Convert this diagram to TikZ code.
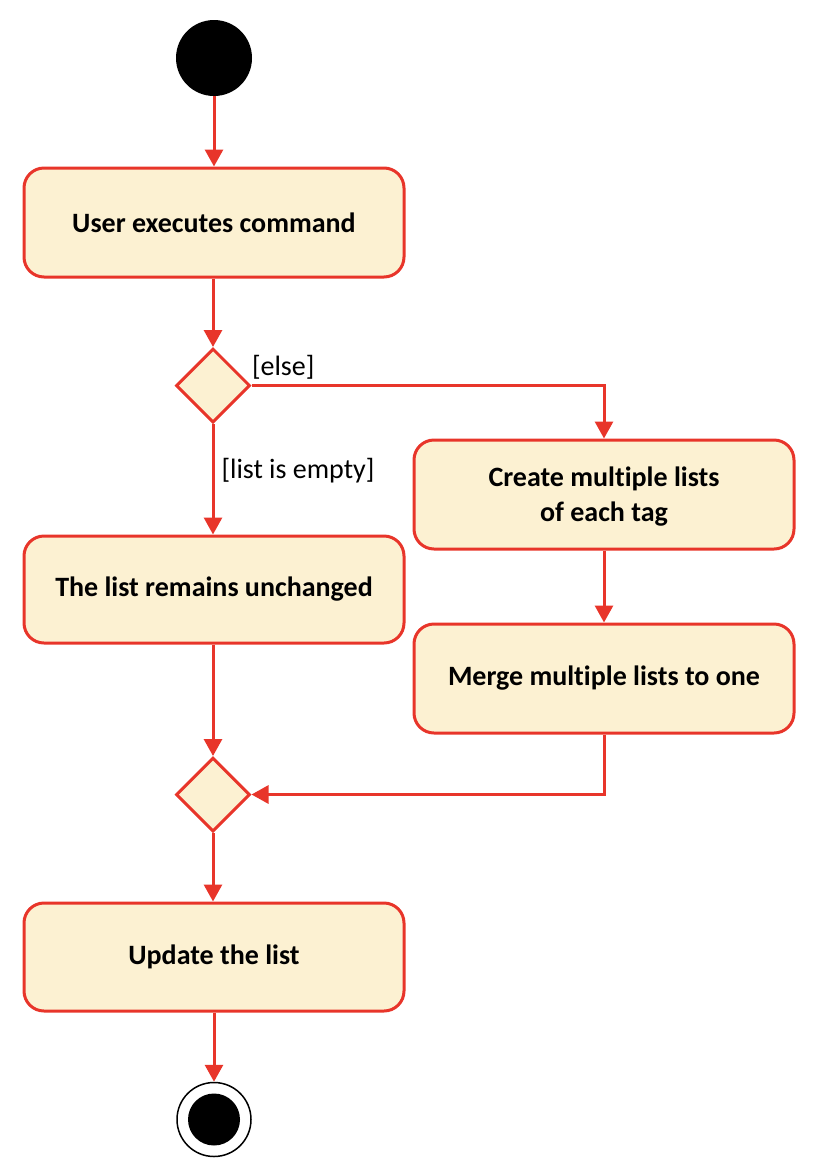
\documentclass[tikz,border=0pt]{standalone}
\usepackage{fontspec}
\setmainfont[Ligatures=NoCommon]{Carlito}
\usetikzlibrary{arrows.meta,shapes.geometric}
\definecolor{umlred}{HTML}{E8352A}
\definecolor{umlfill}{HTML}{FCF1D2}
\tikzset{
  x=1pt,y=-1pt,
  act/.style={draw=umlred, fill=umlfill, line width=3pt, rounded corners=20pt,
    minimum width=380pt, align=center, font=\bfseries\fontsize{28}{35}\selectfont},
  dec/.style={draw=umlred, fill=umlfill, line width=3pt, diamond, minimum width=74pt, minimum height=74pt, inner sep=0pt},
  flow/.style={draw=umlred, line width=3pt, -{Triangle[length=17pt,width=18pt]}},
  guard/.style={font=\fontsize{28}{32}\selectfont, inner sep=0pt}
}
\begin{document}
\begin{tikzpicture}
\useasboundingbox (0,0) rectangle (830,1176);
\node[circle, fill=black, minimum size=76pt, inner sep=0pt] (start) at (214,58) {};
\node[act, minimum height=109pt] (exec) at (214,222.5) {User executes command};
\node[dec] (d1) at (213,385.5) {};
\node[act, minimum height=107pt] (unch) at (214,589.5) {The list remains unchanged};
\node[act, minimum height=109pt] (create) at (604,494.5) {\strut Create multiple lists\\of each tag};
\node[act, minimum height=109pt] (merge) at (604,678.5) {Merge multiple lists to one};
\node[dec] (d2) at (213,794.5) {};
\node[act, minimum height=108pt] (upd) at (214,957) {Update the list};
\node[circle, draw=black, line width=1.5pt, fill=white, minimum size=74pt, inner sep=0pt] (end) at (214,1119.5) {};
\node[circle, fill=black, minimum size=52pt, inner sep=0pt] (endin) at (214,1119.5) {};

\draw[flow] (exec.south -| d1.north) -- (d1.north);
\draw[flow] (start) -- (exec);
\draw[flow] (d1.south) -- (d1.south |- unch.north) node[guard, pos=0.42, right, xshift=7pt] {[list is empty]};
\draw[flow] (d1.east) -| (create.north) node[guard, pos=0.0, anchor=west, xshift=-1pt, yshift=18pt] {[else]};
\draw[flow] (create) -- (merge);
\draw[flow] (unch.south -| d2.north) -- (d2.north);
\draw[flow] (merge.south) |- (d2.east);
\draw[flow] (d2.south) -- (d2.south |- upd.north);
\draw[flow] (upd) -- (end);
\end{tikzpicture}
\end{document}
